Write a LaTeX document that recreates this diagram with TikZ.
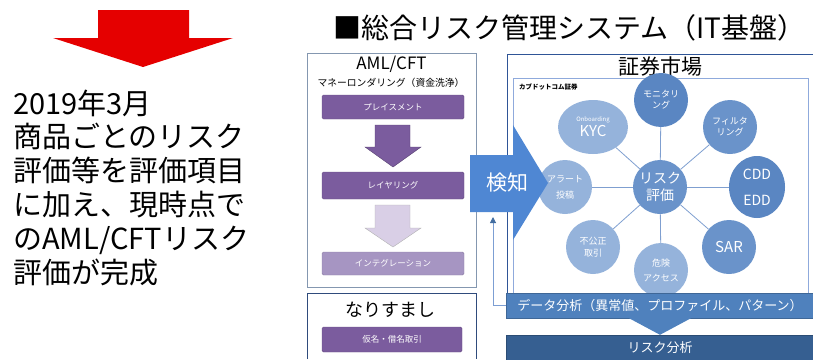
\documentclass[tikz,border=0pt]{standalone}
\usepackage{fontspec}
\setmainfont{Noto Sans CJK JP}
\usetikzlibrary{shapes.geometric,arrows.meta}

\definecolor{arrowred}{HTML}{E50000}
\definecolor{amlframe}{HTML}{8497B0}
\definecolor{navyframe}{HTML}{2F4B7C}
\definecolor{mktframe}{HTML}{2F5597}
\definecolor{kabuframe}{HTML}{8FAADC}
\definecolor{plum}{HTML}{7B5C9E}
\definecolor{plumlight}{HTML}{A695C2}
\definecolor{plumpale}{HTML}{D9CFE6}
\definecolor{detectblue}{HTML}{4F87D3}
\definecolor{databar}{HTML}{4F81BD}
\definecolor{riskbar}{HTML}{365F91}
\definecolor{spokeblue}{HTML}{7F9FD0}
\definecolor{bubdark}{HTML}{5A86C2}
\definecolor{bubmid}{HTML}{6A93CA}
\definecolor{bublight}{HTML}{95B3DB}

\begin{document}
\begin{tikzpicture}
  [x=1pt, y=-1pt, inner sep=0pt,
   plumbar/.style={draw=#1!85!black, fill=#1, rounded corners=1.5pt,
                   minimum width=142pt, minimum height=24pt, text=white,
                   font=\fontsize{8.5}{10}\selectfont},
   bubble/.style={circle, fill=#1, minimum size=54pt, text=white, align=center,
                  font=\fontsize{9}{11}\selectfont},
   spoke/.style={draw=spokeblue, line width=0.8pt},
   bar/.style={fill=#1, draw=#1!80!black, minimum width=308pt, text=white,
               font=\fontsize{13}{15}\selectfont}]
  \useasboundingbox (0,0) rectangle (813,359);

  % red arrow and the note below it
  \fill[arrowred] (98,10) -- (189,10) -- (189,38) -- (233,38) -- (143,67)
    -- (53,38) -- (98,38) -- cycle;
  \foreach \txt [count=\i] in {{2019年3月}, {商品ごとのリスク}, {評価等を評価項目},
      {に加え、現時点で}, {のAML/CFTリスク}, {評価が完成}}
    \node (note\i) [anchor=base west, font=\fontsize{29}{34}\selectfont]
      at (13,80.2+33.8*\i) {\txt};

  \node (title) [anchor=west, font=\fontsize{28}{30}\selectfont] at (333,28)
    {■総合リスク管理システム（IT基盤）};

  % AML/CFT panel
  \draw[amlframe, line width=1pt] (307,53) rectangle (476,287);
  \node (aml) [font=\fontsize{17}{19}\selectfont] at (391.5,64) {AML/CFT};
  \node (ml) [font=\fontsize{9.8}{11}\selectfont] at (391,83)
    {マネーロンダリング（資金洗浄）};
  \node (place) [plumbar=plum] at (393,107) {プレイスメント};
  \node (layer) [plumbar=plum, minimum height=27pt] at (393,185.5) {レイヤリング};
  \node (integ) [plumbar=plumlight, minimum height=23pt] at (393,263.5)
    {インテグレーション};
  \filldraw[fill=plum, draw=plum!70!black] (375,125) -- (410,125) -- (410,147)
    -- (421,147) -- (393,167) -- (365,147) -- (375,147) -- cycle;
  \filldraw[fill=plumpale, draw=gray!60] (375,205) -- (410,205) -- (410,228)
    -- (421,228) -- (393,247) -- (365,228) -- (375,228) -- cycle;

  % impersonation panel
  \draw[navyframe, line width=1pt] (307,359) |- (476,293) -- (476,359);
  \node (nari) [font=\fontsize{18}{20}\selectfont] at (390,310) {なりすまし};
  \node (alias) [plumbar=plum, minimum width=140pt, minimum height=25pt]
    at (392,339.5) {仮名・借名取引};

  % market panel
  \draw[mktframe, line width=1pt] (813,54) -| (507,293);
  \draw[kabuframe, line width=1pt] (513,78) rectangle (808,293);
  \node (mkt) [font=\fontsize{21}{23}\selectfont] at (660,67) {証券市場};
  \node (kabu) [anchor=west, font=\fontsize{6.5}{7}\selectfont\bfseries]
    at (519,87) {カブドットコム証券};

  \node (risk) [bubble=bubmid, font=\fontsize{14}{17}\selectfont] at (660,187)
    {リスク\\評価};
  \node (mon) [bubble=bubdark] at (661,100) {モニタリ\\ング};
  \node (filt) [bubble=bubmid] at (730,127) {フィルタ\\リング};
  \node (cdd) [bubble=bubdark, ellipse, minimum width=56pt, minimum height=62pt,
               font=\fontsize{14}{26}\selectfont] at (757,187) {CDD\\EDD};
  \node (sar) [bubble=bubmid, font=\fontsize{15}{17}\selectfont] at (729,247) {SAR};
  \node (danger) [bubble=bublight, font=\fontsize{9}{15}\selectfont] at (661,270)
    {危険\\アクセス};
  \node (unfair) [bubble=bublight, font=\fontsize{9}{12}\selectfont] at (593,247)
    {不公正\\取引};
  \node (alert) [bubble=bublight, font=\fontsize{9}{16}\selectfont] at (565,187)
    {アラート\\投稿};
  \node (kyc) [bubble=bublight, ellipse, minimum width=70pt, minimum height=54pt]
    at (593,127)
    {{\fontsize{6}{7}\selectfont Onboarding}\\[1pt]{\fontsize{15}{17}\selectfont KYC}};
  \foreach \b in {mon,filt,cdd,sar,danger,unfair,alert,kyc}
    \draw[spoke] (risk) -- (\b);

  % detection arrow
  \fill[detectblue] (470,155) -- (513,155) -- (513,125) -- (548,183)
    -- (513,240) -- (513,212) -- (470,212) -- cycle;
  \node (detect) [text=white, font=\fontsize{21}{23}\selectfont] at (507,183) {検知};
  \coordinate (detectfoot) at (493,217);

  % analysis bars
  \node (data) [bar=databar, minimum height=25pt] at (660,305.5)
    {データ分析（異常値、プロファイル、パターン）};
  \node (riskana) [bar=riskbar, minimum height=26pt] at (660,348) {リスク分析};
  \fill[databar] ([xshift=-31pt]data.south) -- ([xshift=31pt]data.south)
    -- (riskana.north) -- cycle;
  \draw[kabuframe!70!databar, line width=1pt,
        -{Triangle[length=6pt,width=6pt,color=databar!85!black]}]
    (data.west) -| (detectfoot);
\end{tikzpicture}
\end{document}
